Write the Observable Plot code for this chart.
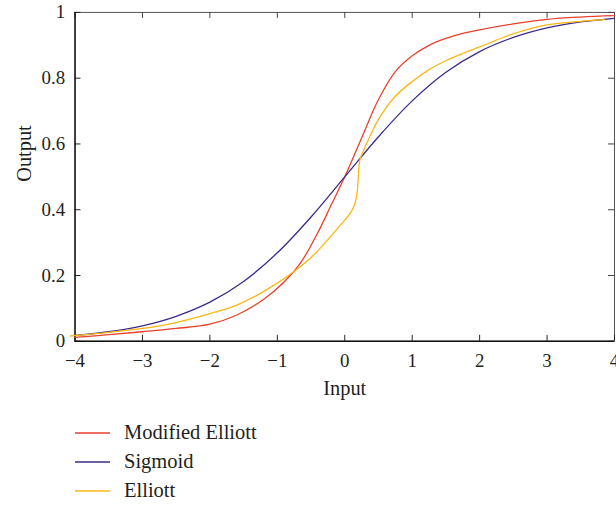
<!DOCTYPE html>
<html>
<head>
<meta charset="utf-8">
<script src="https://cdn.jsdelivr.net/npm/d3@7"></script>
<script src="https://cdn.jsdelivr.net/npm/@observablehq/plot@0.6"></script>
<style>
  body { margin: 0; background: #fff; overflow: hidden; width: 616px; height: 505px; position: relative; font-family: "Liberation Serif", serif; color: #231f20; }
  #chart { position: absolute; left: 0; top: 0; }
  #legend { position: absolute; left: 75px; top: 418px; }
  .row { display: flex; align-items: center; height: 29px; font-size: 20.5px; }
  .row svg { margin-right: 14px; }
</style>
</head>
<body>
<div id="chart"></div>
<div id="legend"></div>
<script>
const seriesNames = ["Modified Elliott", "Sigmoid", "Elliott"];
const seriesColors = ["#e8412b", "#3b2b8c", "#fbb714"];

const modElliottX = [-4, -3.5, -3, -2.5, -2, -1.6, -1.2, -0.9, -0.65, -0.4, -0.2, 0, 0.25, 0.5, 0.75, 1, 1.25, 1.5, 1.75, 2, 2.5, 3, 3.5, 4];
const modElliottY = [0.012, 0.02, 0.029, 0.039, 0.052, 0.08, 0.128, 0.18, 0.24, 0.33, 0.415, 0.5, 0.618, 0.735, 0.82, 0.868, 0.9, 0.921, 0.936, 0.947, 0.965, 0.979, 0.986, 0.99];

const sigmoidX = [-4, -3.5, -3, -2.5, -2, -1.5, -1, -0.5, 0, 0.5, 1, 1.5, 2, 2.5, 3, 3.5, 4];
const sigmoidY = [0.018, 0.029, 0.047, 0.076, 0.119, 0.182, 0.269, 0.378, 0.5, 0.622, 0.731, 0.818, 0.881, 0.924, 0.953, 0.971, 0.982];

const elliottX = [-4.07, -3.5, -3, -2.5, -2, -1.6, -1.13, -0.65, -0.4, -0.1, 0.09, 0.15, 0.175, 0.19, 0.2, 0.21, 0.225, 0.25, 0.3, 0.4, 0.5, 0.75, 1, 1.25, 1.5, 1.75, 2, 2.5, 3, 3.5, 3.85];
const elliottY = [0.016, 0.027, 0.039, 0.057, 0.084, 0.11, 0.16, 0.228, 0.275, 0.345, 0.392, 0.418, 0.44, 0.465, 0.5, 0.53, 0.552, 0.566, 0.59, 0.635, 0.675, 0.745, 0.79, 0.826, 0.853, 0.875, 0.895, 0.935, 0.962, 0.973, 0.978];

const xTicks = [-4, -3, -2, -1, 0, 1, 2, 3, 4];
const yTicks = [0, 0.2, 0.4, 0.6, 0.8, 1];
const xLabel = "Input";
const yLabel = "Output";

const seriesX = [modElliottX, sigmoidX, elliottX];
const seriesY = [modElliottY, sigmoidY, elliottY];
const seriesData = seriesNames.map((name, i) => seriesX[i].map((x, j) => ({series: name, x, y: seriesY[i][j]})));

const W = 620, H = 410, mL = 75, mR = 2, mT = 12, mB = 67;
const plotW = W - mL - mR, plotH = H - mT - mB;
const tick = 6;

const chart = Plot.plot({
  width: W, height: H,
  marginLeft: mL, marginRight: mR, marginTop: mT, marginBottom: mB,
  style: { fontFamily: "Liberation Serif", fontSize: "19px", color: "#231f20", background: "transparent", overflow: "visible" },
  x: { domain: [-4, 4] },
  y: { domain: [0, 1] },
  color: { domain: seriesNames, range: seriesColors },
  marks: [
    Plot.frame({ stroke: "#555", strokeWidth: 1 }),
    Plot.tickX(xTicks, { x: d => d, insetTop: plotH - tick, stroke: "#222" }),
    Plot.tickX(xTicks, { x: d => d, insetBottom: plotH - tick, stroke: "#444" }),
    Plot.tickY(yTicks, { y: d => d, insetRight: plotW - tick, stroke: "#222" }),
    Plot.tickY(yTicks, { y: d => d, insetLeft: plotW - tick, stroke: "#444" }),
    Plot.ruleX([-4], { stroke: "#111", strokeWidth: 1.4 }),
    Plot.ruleY([0], { stroke: "#111", strokeWidth: 1.4 }),
    Plot.axisX({ ticks: xTicks, tickSize: 0, tickPadding: 12, label: null }),
    Plot.axisY({ ticks: yTicks, tickSize: 0, tickPadding: 10, label: null, tickFormat: d => String(d) }),
    Plot.text([xLabel], { frameAnchor: "bottom", dy: 54, fontSize: 20.5, fill: "#231f20" }),
    Plot.text([yLabel], { frameAnchor: "left", dx: -51, dy: 5, rotate: -90, fontSize: 20.5, fill: "#231f20" }),
    ...seriesData.map(d => Plot.line(d, { x: "x", y: "y", stroke: "series", strokeWidth: 1.3, curve: "catmull-rom" }))
  ]
});
document.getElementById("chart").appendChild(chart);

const legend = document.getElementById("legend");
seriesNames.forEach((name, i) => {
  const row = document.createElement("div");
  row.className = "row";
  row.innerHTML = `<svg width="35" height="4"><line x1="0" x2="35" y1="2" y2="2" stroke="${seriesColors[i]}" stroke-width="1.3"/></svg><span>${name}</span>`;
  legend.appendChild(row);
});
</script>
</body>
</html>
